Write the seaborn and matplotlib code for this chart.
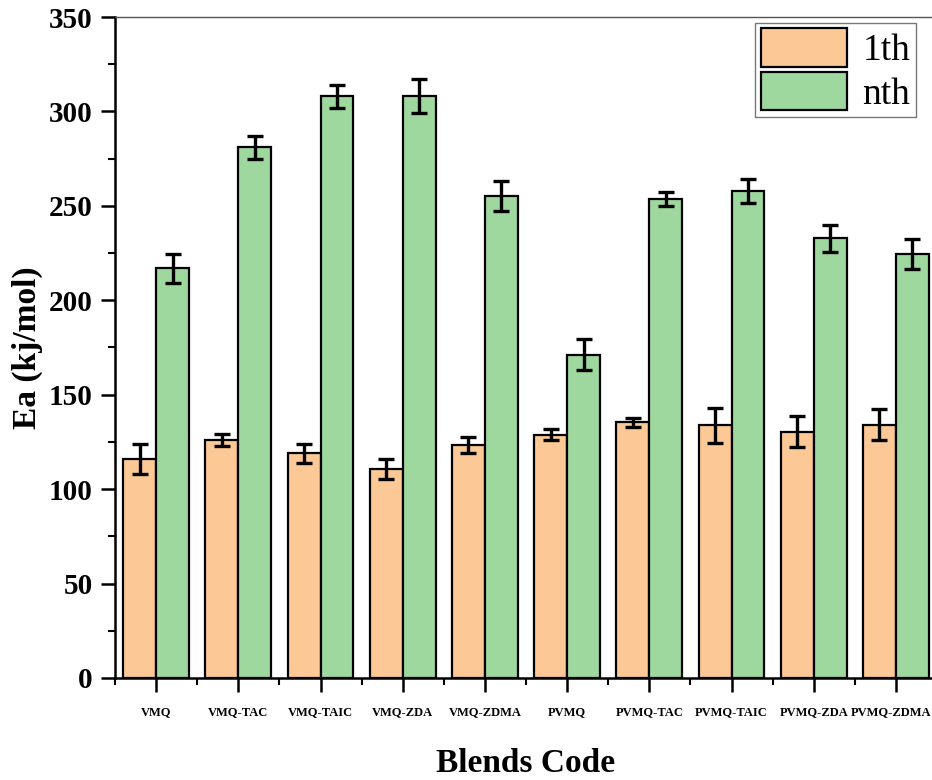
import matplotlib
matplotlib.use("Agg")
import matplotlib.pyplot as plt
import matplotlib.transforms as mtransforms
from matplotlib.ticker import MultipleLocator, FixedLocator
import seaborn as sns
import pandas as pd

# Activation energy of blends, first and n-th stage
blends = ["VMQ", "VMQ-TAC", "VMQ-TAIC", "VMQ-ZDA", "VMQ-ZDMA",
          "PVMQ", "PVMQ-TAC", "PVMQ-TAIC", "PVMQ-ZDA", "PVMQ-ZDMA"]
ea_1th = [116, 126, 119, 110.7, 123.3, 128.8, 135.4, 133.8, 130.5, 134.2]
err_1th = [8, 3, 5, 5.3, 4.2, 3, 2.4, 9.3, 8, 8.3]
ea_nth = [216.9, 281, 308, 308, 255.2, 171.2, 253.8, 257.9, 232.8, 224.6]
err_nth = [7.5, 6, 6.2, 9, 8, 8.3, 3.7, 6.2, 7, 8]
series = ["1th", "nth"]
colors = ["#FCC996", "#9FD89E"]

df = pd.DataFrame({
    "Blend": blends * 2,
    "Stage": [series[0]] * len(blends) + [series[1]] * len(blends),
    "Ea": ea_1th + ea_nth,
})

sns.set_theme(style="white")
plt.rcParams["font.family"] = ["Liberation Serif", "DejaVu Serif"]
plt.rcParams.update({"text.color": "black", "axes.labelcolor": "black",
                     "xtick.color": "black", "ytick.color": "black"})

fig = plt.figure(figsize=(9.32, 7.8), dpi=100)
ax = fig.add_axes([0.1234, 0.1308, 0.882, 0.8474])

sns.barplot(data=df, x="Blend", y="Ea", hue="Stage", palette=colors,
            order=blends, hue_order=series, width=0.8, errorbar=None,
            edgecolor="black", linewidth=1.6, ax=ax, saturation=1)

# error bars centred on each drawn bar
for container, vals, errs in zip(ax.containers, [ea_1th, ea_nth], [err_1th, err_nth]):
    xs = [p.get_x() + p.get_width() / 2 for p in container.patches]
    ax.errorbar(xs, vals, yerr=errs, fmt="none", ecolor="black",
                elinewidth=2.4, capsize=5.5, capthick=2.4, zorder=5)

ax.set_ylim(0, 350)
ax.set_xlim(-0.5, 9.5)
ax.yaxis.set_major_locator(MultipleLocator(50))
ax.yaxis.set_minor_locator(MultipleLocator(25))
ax.xaxis.set_minor_locator(FixedLocator([i - 0.5 for i in range(len(blends) + 1)]))

ax.tick_params(axis="y", which="major", direction="out", length=10, width=1.8,
               labelsize=21, pad=6, left=True, color="black", labelcolor="black")
ax.tick_params(axis="y", which="minor", direction="out", length=5, width=1.5, left=True, color="black")
ax.tick_params(axis="x", which="major", direction="out", length=10, width=1.8,
               labelsize=9, pad=10, bottom=True, color="black", labelcolor="black")
ax.tick_params(axis="x", which="minor", direction="out", length=5, width=1.5, bottom=True, color="black")
for lbl in ax.get_yticklabels() + ax.get_xticklabels():
    lbl.set_fontweight("bold")

# nudge the rightmost category label so it stays inside the canvas
last = ax.get_xticklabels()[-1]
last.set_transform(last.get_transform() +
                   mtransforms.ScaledTranslation(-5 / 100, 0, fig.dpi_scale_trans))

for side in ("left", "bottom"):
    ax.spines[side].set_color("black")
    ax.spines[side].set_linewidth(1.8)
ax.spines["top"].set_color("#555555")
ax.spines["top"].set_linewidth(1.0)
ax.spines["right"].set_visible(False)

ax.set_ylabel("Ea (kj/mol)", fontsize=24, fontweight="bold", labelpad=4, color="black")
ax.set_xlabel("Blends Code", fontsize=24, fontweight="bold", labelpad=22, color="black")

leg = ax.legend(loc="upper right", bbox_to_anchor=(0.981, 1.0), fontsize=27,
                frameon=True, fancybox=False, edgecolor="#555555",
                handlelength=2.3, handleheight=1.2, handletextpad=0.4,
                borderpad=0.15, labelspacing=0.1, borderaxespad=0.15)
leg.get_frame().set_linewidth(1.0)
for t in leg.get_texts():
    t.set_color("black")

fig.savefig("out.png", dpi=100)
